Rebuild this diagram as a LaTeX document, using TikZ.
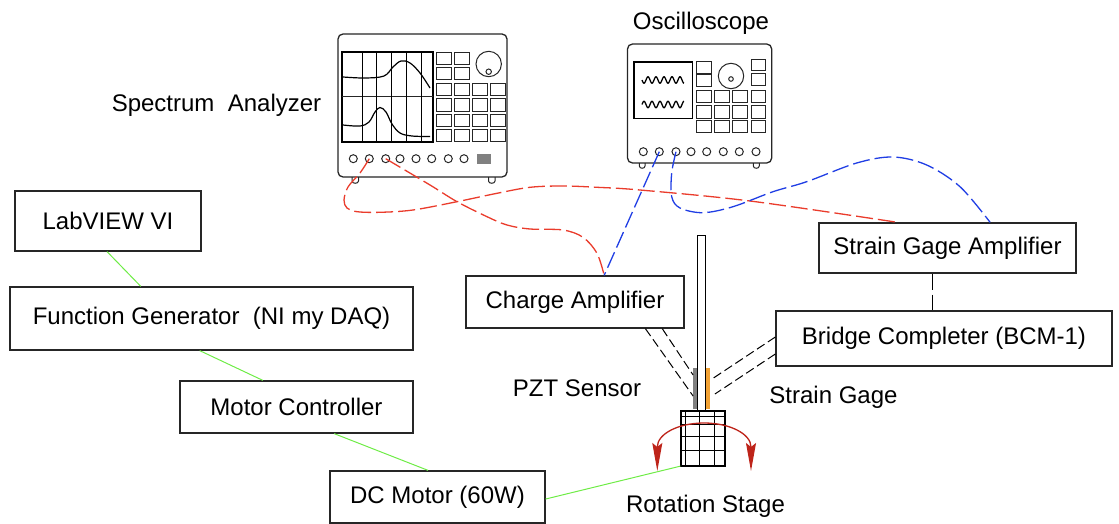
\documentclass[tikz,border=0pt]{standalone}
\usepackage{fontspec}
\setmainfont{Liberation Sans}
\usetikzlibrary{calc,arrows.meta}
\definecolor{cablered}{RGB}{234,60,44}
\definecolor{cableblue}{RGB}{32,62,228}
\definecolor{linkgreen}{RGB}{110,236,70}
\definecolor{gagecolor}{RGB}{242,162,52}
\definecolor{pztgray}{RGB}{128,128,128}
\definecolor{rotred}{RGB}{190,36,26}
\begin{document}
\begin{tikzpicture}[x=1pt,y=-1pt,
  txt/.style={font=\fontsize{24}{28}\selectfont},
  box/.style={txt,draw=black!85,line width=1.3pt,fill=white,inner sep=0pt},
  lbl/.style={txt,inner sep=0pt,anchor=base},
  casing/.style={draw=black!85,line width=1.3pt,fill=white,rounded corners=5pt},
  inst/.style={draw=black!85,line width=1pt},
  knob/.style={draw=black!85,line width=1pt,fill=white},
  btn/.style={draw=black!85,line width=1pt},
  link/.style={draw=linkgreen,line width=1pt},
  redcable/.style={draw=cablered,line width=1.3pt,dash pattern=on 17pt off 5pt},
  bluecable/.style={draw=cableblue,line width=1.3pt,dash pattern=on 17pt off 5pt},
  wire/.style={draw=black,line width=1pt,dash pattern=on 9pt off 4pt},
  longwire/.style={draw=black,line width=1pt,dash pattern=on 16pt off 5pt},
  rottip/.tip={Stealth[length=28pt,width=10pt,inset=4pt]},
]
\useasboundingbox (0,0) rectangle (1119,524);

% ---------------- Spectrum analyzer ----------------
\draw[casing] (338,34) rectangle (507,177);
\draw[inst] (352,177) -- (352,181) .. controls (352,184) and (358.5,184) .. (358.5,181) -- (358.5,177);
\draw[inst] (488.5,177) -- (488.5,181) .. controls (488.5,184) and (495,184) .. (495,181) -- (495,177);
\draw[line width=1.3pt] (342,52) rectangle (433,142);
\draw[inst] (342,97) -- (433,97);
\foreach \gx in {362,376,391,406,421}
  \draw[line width=0.8pt] (\gx,52) -- (\gx,142);
\draw[line width=1.2pt] plot[smooth,tension=0.6] coordinates
  {(343,77) (365,78) (384,76) (393,67) (401,61) (410,63) (420,73) (430,88)};
\draw[line width=1.2pt] plot[smooth,tension=0.6] coordinates
  {(343,125) (360,126) (369,122) (375,112) (380,107.5) (386,112) (392,124) (400,133) (412,136) (430,136.5)};
\foreach \bx in {436.7,454.3}
  \foreach \by in {52.7,67.3}
    \draw[btn] (\bx,\by) rectangle ++(15,12.3);
\foreach \bx in {436.7,454.3,472.3,490.3}
  \foreach \by in {83.3,99,114.3,129.3}
    \draw[btn] (\bx,\by) rectangle ++(15,12.3);
\draw[knob] (488.7,64) circle[radius=12.7pt];
\draw[knob] (488.7,71.7) circle[radius=2.7pt];
\foreach \cx in {353.3,369.3,385.7,400,416,431.7,448.3,464}
  \draw[knob] (\cx,158.7) circle[radius=4pt];
\fill[pztgray] (476.7,154) rectangle (491.3,164);
\coordinate (sa2) at (369.3,158.7);
\coordinate (sa3) at (385.7,158.7);

% ---------------- Oscilloscope ----------------
\draw[casing] (627.5,44) rectangle (771.7,163);
\draw[inst] (639.3,163) -- (639.3,166) .. controls (639.3,169) and (645,169) .. (645,166) -- (645,163);
\draw[inst] (753.3,163) -- (753.3,166) .. controls (753.3,169) and (759.3,169) .. (759.3,166) -- (759.3,163);
\draw[line width=1.3pt] (634,62) rectangle (692.5,118.5);
\draw[line width=1.3pt] plot[domain=0:42,samples=90] ({642+\x},{80+3.2*sin(\x*45)});
\draw[line width=1.3pt] plot[domain=0:42,samples=90] ({642+\x},{104.5-3.2*sin(\x*45)});
\foreach \by in {61.7,75}
  \draw[btn] (696.7,\by) rectangle ++(15,11.7);
\foreach \by in {59.3,74}
  \draw[btn] (751,\by) rectangle ++(14.7,11.7);
\foreach \bx in {696.7,714.3,732.3}
  \foreach \by in {90.7,106,120.7}
    \draw[btn] (\bx,\by) rectangle ++(15,12.3);
\foreach \by in {90.7,106,120.7}
  \draw[btn] (751,\by) rectangle ++(14.7,12.3);
\draw[knob] (731,76) circle[radius=12.7pt];
\draw[knob] (731,79) circle[radius=2.3pt];
\foreach \cx in {643.3,659.3,676,691,706.7,723.3,739.3,756}
  \draw[knob] (\cx,151.7) circle[radius=4pt];
\coordinate (os2) at (659.3,151.7);
\coordinate (os3) at (676,151.7);

% ---------------- Labels ----------------
\node[lbl] (salabel) at (216.5,111.5) {Spectrum~~Analyzer};
\node[lbl] (osclabel) at (701,30) {Oscilloscope};
\node[lbl] (pztlabel) at (577,396) {PZT Sensor};
\node[lbl] (sglabel) at (833.5,403) {Strain Gage};
\node[lbl] (rslabel) at (705.5,512.7) {Rotation Stage};

% ---------------- Boxes ----------------
\node[box,minimum width=186pt,minimum height=60pt] (lab) at (108,221) {LabVIEW VI};
\node[box,minimum width=403pt,minimum height=63pt] (fg) at (211.5,318.5) {Function Generator~~(NI my DAQ)};
\node[box,minimum width=233pt,minimum height=52pt] (mc) at (296.5,407) {Motor Controller};
\node[box,minimum width=215pt,minimum height=52pt] (dc) at (437.5,497) {DC Motor (60W)};
\node[box,minimum width=218pt,minimum height=52pt] (ca) at (575,302) {Charge Amplifier};
\node[box,minimum width=257pt,minimum height=50pt] (sga) at (947.5,248) {Strain Gage Amplifier};
\node[box,minimum width=336pt,minimum height=55pt] (bcm) at (944,338.5) {Bridge Completer (BCM-1)};

% ---------------- Specimen and rotation stage ----------------
\node[draw=black,line width=1pt,fill=white,minimum width=7.7pt,minimum height=176pt,inner sep=0pt] (beam) at (701.2,323.7) {};
\node[fill=pztgray,minimum width=4pt,minimum height=41.5pt,inner sep=0pt] (pzt) at (695.3,388.5) {};
\node[fill=gagecolor,minimum width=4pt,minimum height=41.5pt,inner sep=0pt] (sg) at (708,388.5) {};
\node[draw=black,line width=1.3pt,fill=white,minimum width=44pt,minimum height=54pt,inner sep=0pt] (stage) at (703,438.5) {};
\foreach \gx in {685,699.5,714}
  \draw[line width=0.8pt] (\gx,411.5) -- (\gx,465.5);
\foreach \gy in {416.5,424,436.5,450}
  \draw[line width=0.8pt] (681,\gy) -- (725,\gy);
\draw[draw=black,line width=1.3pt] (stage.north west) rectangle (stage.south east);
\draw[rotred,line width=1.3pt,{rottip}-{rottip}]
  (657.3,471) -- (657.3,447) .. controls (657.3,434) and (678,423) .. (704,423)
  .. controls (730,423) and (751,434) .. (751,447) -- (751,471);

% ---------------- Control chain ----------------
\draw[link] ($(lab.south west)!0.495!(lab.south east)$) -- ($(fg.north west)!0.325!(fg.north east)$);
\draw[link] ($(fg.south west)!0.471!(fg.south east)$) -- ($(mc.north west)!0.356!(mc.north east)$);
\draw[link] ($(mc.south west)!0.661!(mc.south east)$) -- ($(dc.north west)!0.456!(dc.north east)$);
\draw[link] ($(dc.north east)!0.538!(dc.south east)$) -- (stage.south west);

% ---------------- Sensor wiring ----------------
\draw[wire] ($(ca.south west)!0.821!(ca.south east)$) -- ($(pzt.west)+(0,7.5)$);
\draw[wire] ($(ca.south west)!0.898!(ca.south east)$) -- ($(pzt.west)+(0,-13.5)$);
\draw[wire] ($(bcm.west)+(0,-1.5)$) -- ($(sg.east)+(1.3,-9.2)$);
\draw[wire] ($(bcm.west)+(0,15.5)$) -- ($(sg.east)+(4.7,5.5)$);
\coordinate (sgab) at ($(sga.south west)!0.44!(sga.south east)$);
\draw[longwire] (sgab) -- (sgab |- bcm.north);

% ---------------- Signal cables ----------------
\coordinate (caport) at ($(ca.north west)!0.633!(ca.north east)$);
\coordinate (sgaleft) at ($(sga.north west)!0.307!(sga.north east)$);
\coordinate (sgaright) at ($(sga.north west)!0.665!(sga.north east)$);
\draw[redcable] plot[smooth,tension=0.55] coordinates
  {(sa2) (360,173) (348,187) (344,200) (347,208) (357,211.7) (380,212.3) (413,210)
   (457,201.7) (497,193.3) (530,187.3) (563,186) (597,187.3) (640,190) (750,201) (sgaleft)};
\draw[redcable] plot[smooth,tension=0.55] coordinates
  {(sa3) (430,185) (457,201.7) (487,216.7) (507,225) (530,229) (563,230) (583,237.3) (597,253.3) (caport)};
\draw[bluecable] (os2) -- (caport);
\draw[bluecable] plot[smooth,tension=0.55] coordinates
  {(os3) (671.7,173) (671.7,196.7) (680,208) (703,212.7) (733,206.7) (773,191.7) (806.7,181.7)
   (856.7,163) (893,157) (926.7,165) (960,186.7) (sgaright)};
\end{tikzpicture}
\end{document}
